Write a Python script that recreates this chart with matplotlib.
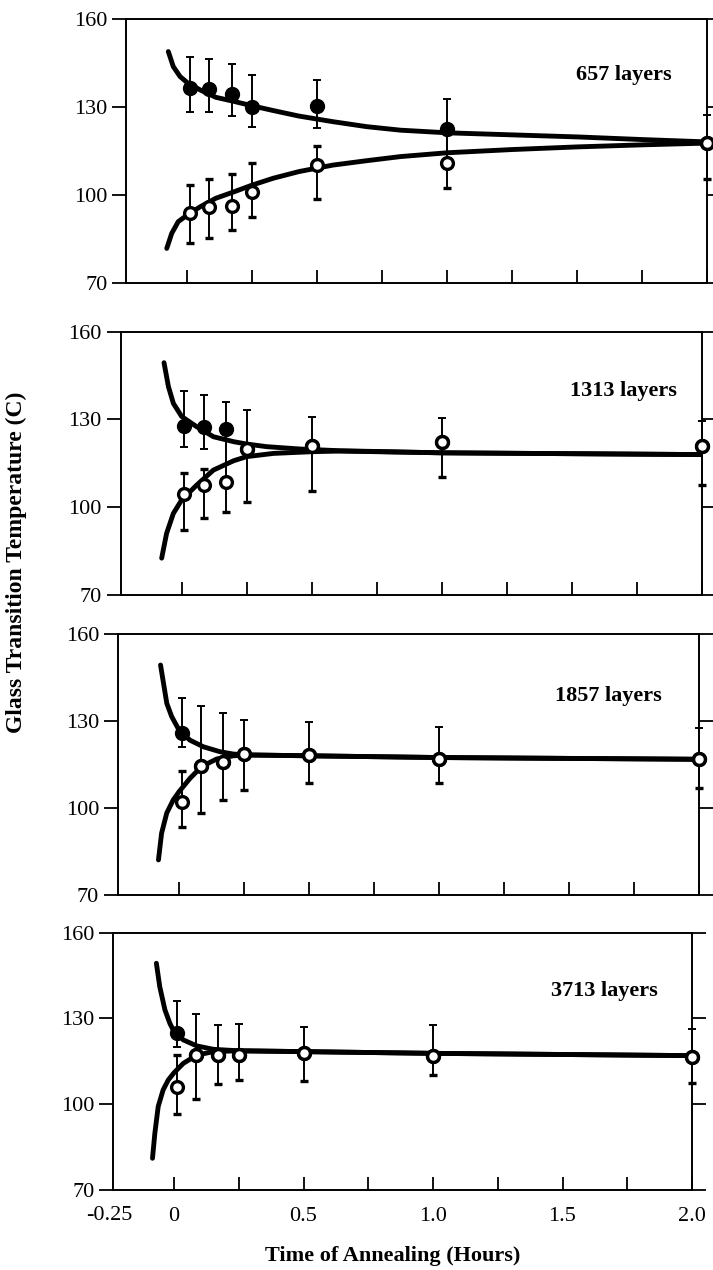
import matplotlib
matplotlib.use("Agg")
import matplotlib.pyplot as plt
from matplotlib.transforms import blended_transform_factory

plt.rcParams['font.family'] = ['Liberation Serif', 'DejaVu Serif']

# annealing times (hours) at which Tg was measured
times = [0.01, 0.085, 0.17, 0.25, 0.5, 1.0, 2.0]

panel_names = ['657 layers', '1313 layers', '1857 layers', '3713 layers']

# filled circles (upper branch): value, lower cap, upper cap
filled_y = [
    [136.5, 136.1, 134.5, 130.0, 130.5, 122.5, 117.9],
    [127.8, 127.3, 126.6, 119.9, 120.9, 122.4, 120.8],
    [125.7, 114.6, 116.0, 118.6, 118.3, 116.8, 116.8],
    [124.8, 117.2, 117.2, 117.2, 117.8, 117.0, 116.5],
]
filled_lo = [
    [128.5, 128.5, 127.0, 123.2, 122.8, 112.0, 117.9],
    [120.7, 119.9, 110.5, 119.9, 120.9, 122.4, 120.8],
    [121.1, 114.6, 116.0, 118.6, 118.3, 116.8, 116.8],
    [120.1, 117.2, 117.2, 117.2, 117.8, 117.0, 116.5],
]
filled_hi = [
    [147.0, 146.4, 144.8, 141.0, 139.3, 132.7, 127.4],
    [139.8, 138.4, 136.1, 133.2, 131.0, 130.4, 129.4],
    [137.8, 135.2, 132.6, 130.3, 129.5, 127.8, 127.5],
    [136.1, 131.6, 127.8, 128.1, 126.9, 127.8, 126.4],
]

# open circles (lower branch)
open_y = [
    [94.1, 95.9, 96.4, 101.2, 110.3, 110.9, 117.9],
    [104.4, 107.6, 108.7, 119.9, 120.9, 122.4, 120.8],
    [102.2, 114.6, 116.0, 118.6, 118.3, 116.8, 116.8],
    [106.2, 117.2, 117.2, 117.2, 117.8, 117.0, 116.5],
]
open_lo = [
    [83.6, 85.3, 88.0, 92.7, 98.6, 102.6, 105.6],
    [92.2, 96.2, 98.2, 101.7, 105.6, 110.4, 107.7],
    [93.3, 98.4, 102.8, 106.2, 108.5, 108.7, 106.8],
    [96.5, 101.8, 107.1, 108.6, 108.3, 110.3, 107.4],
]
open_hi = [
    [103.5, 105.5, 107.3, 111.1, 116.9, 121.0, 117.9],
    [111.6, 113.0, 108.7, 119.9, 120.9, 122.4, 120.8],
    [112.9, 114.6, 116.0, 118.6, 118.3, 116.8, 116.8],
    [117.3, 117.2, 117.2, 117.2, 117.8, 117.0, 116.5],
]

# fitted curves
fit_hi_t = [
    [-0.073, -0.054, -0.028, 0.0, 0.05, 0.11, 0.18, 0.25, 0.33, 0.43, 0.56, 0.69, 0.82, 1.0, 1.25, 1.5, 1.75, 2.0],
    [-0.068, -0.051, -0.032, 0.0, 0.058, 0.122, 0.2, 0.25, 0.327, 0.455, 0.61, 1.0, 1.5, 2.0],
    [-0.071, -0.047, -0.028, 0.0, 0.042, 0.094, 0.158, 0.209, 0.26, 0.5, 1.0, 1.5, 2.0],
    [-0.068, -0.055, -0.035, -0.016, 0.0, 0.036, 0.088, 0.153, 0.247, 0.5, 1.0, 1.5, 2.0],
]
fit_hi_T = [
    [149.0, 143.9, 140.5, 138.4, 135.9, 133.4, 132.0, 130.5, 128.9, 127.0, 125.1, 123.4, 122.2, 121.3, 120.6, 119.9, 119.0, 118.2],
    [149.4, 141.2, 135.5, 131.0, 127.5, 124.1, 122.4, 121.6, 120.7, 119.9, 119.3, 118.6, 118.3, 118.0],
    [149.3, 136.1, 131.5, 126.9, 123.4, 121.1, 119.4, 118.6, 118.3, 118.0, 117.4, 117.1, 116.8],
    [149.3, 141.1, 133.0, 128.3, 125.4, 122.5, 120.4, 119.2, 118.7, 118.4, 117.8, 117.4, 117.0],
]
fit_lo_t = [
    [-0.079, -0.06, -0.035, 0.0, 0.05, 0.11, 0.18, 0.25, 0.33, 0.43, 0.56, 0.69, 0.82, 1.0, 1.25, 1.5, 1.75, 2.0],
    [-0.077, -0.058, -0.032, 0.0, 0.058, 0.122, 0.2, 0.25, 0.353, 0.506, 0.61, 1.0, 1.5, 2.0],
    [-0.079, -0.067, -0.047, -0.022, 0.0, 0.042, 0.087, 0.145, 0.209, 0.26, 0.5, 1.0, 1.5, 2.0],
    [-0.083, -0.074, -0.061, -0.042, -0.022, 0.0, 0.036, 0.088, 0.153, 0.247, 0.5, 1.0, 1.5, 2.0],
]
fit_lo_T = [
    [81.9, 87.0, 91.0, 93.3, 96.1, 99.0, 101.2, 103.5, 105.8, 108.1, 110.3, 111.8, 113.2, 114.5, 115.6, 116.5, 117.2, 117.8],
    [82.6, 91.1, 97.9, 102.5, 107.6, 112.7, 115.9, 117.3, 118.4, 119.0, 119.2, 118.6, 118.3, 118.0],
    [82.1, 91.3, 98.3, 102.8, 105.6, 110.2, 114.3, 116.9, 118.0, 118.3, 118.0, 117.4, 117.1, 116.8],
    [81.1, 89.8, 99.2, 105.0, 108.5, 111.0, 114.3, 117.2, 118.4, 118.7, 118.4, 117.8, 117.4, 117.0],
]

y_ticks = [70, 100, 130, 160]
x_ticks = [0, 0.25, 0.5, 0.75, 1.0, 1.25, 1.5, 1.75, 2.0]
x_labels = ['0', '', '0.5', '', '1.0', '', '1.5', '', '2.0']

# layout: panel placement in pixels (x of t=0, px per hour, top, bottom);
# the scan is slightly skewed so each panel sits a little further left
W, H = 713, 1270
XMIN, XMAX = -0.235, 2.0
panels_px = [(187.3, 260, 19.3, 283.3),
             (181.7, 260, 331.7, 595.0),
             (179.0, 260, 634.0, 895.0),
             (174.0, 259, 932.7, 1190.0)]
name_pos = [(1.68, 141.0), (1.70, 139.7), (1.65, 138.5), (1.66, 139.5)]

TICK_FS = 16

fig = plt.figure(figsize=(W / 100, H / 100), dpi=100)

for i, (x0, sc, top, bot) in enumerate(panels_px):
    left = x0 + XMIN * sc
    right = x0 + XMAX * sc
    ax = fig.add_axes([left / W, 1 - bot / H, (right - left) / W, (bot - top) / H])
    ax.set_xlim(XMIN, XMAX)
    ax.set_ylim(70, 160)

    ax.plot(fit_hi_t[i], fit_hi_T[i], color='black', lw=3.5,
            solid_capstyle='round', solid_joinstyle='round', zorder=2)
    ax.plot(fit_lo_t[i], fit_lo_T[i], color='black', lw=3.5,
            solid_capstyle='round', solid_joinstyle='round', zorder=2)

    f_err = [[y - lo for y, lo in zip(filled_y[i], filled_lo[i])],
             [hi - y for y, hi in zip(filled_y[i], filled_hi[i])]]
    ax.errorbar(times, filled_y[i], yerr=f_err, fmt='o', color='black',
                ms=10, elinewidth=1.4, capsize=2.8, capthick=1.4,
                zorder=3, clip_on=False)
    o_err = [[y - lo for y, lo in zip(open_y[i], open_lo[i])],
             [hi - y for y, hi in zip(open_y[i], open_hi[i])]]
    ax.errorbar(times, open_y[i], yerr=o_err, fmt='o', color='black',
                mfc='white', mec='black', mew=2.4, ms=8.5,
                elinewidth=1.4, capsize=2.8, capthick=1.4,
                zorder=4, clip_on=False)

    nx, ny = name_pos[i]
    ax.text(nx, ny, panel_names[i], ha='center', va='center',
            fontsize=16, fontweight='bold')

    for s in ax.spines.values():
        s.set_linewidth(1.4)
    ax.set_yticks(y_ticks)
    ax.tick_params(axis='y', direction='out', length=10, width=1.3,
                   left=True, right=True, labelsize=TICK_FS, pad=3.5)
    ax.set_xticks(x_ticks)
    ax.tick_params(axis='x', direction='in', length=9.5, width=1.3,
                   bottom=True, top=False, labelsize=TICK_FS, pad=12)
    if i == 3:
        ax.set_xticklabels(x_labels)
        # -0.25 sits just outside the left spine
        tr = blended_transform_factory(ax.transData, ax.transAxes)
        ax.text(-0.25, -16.5 / (bot - top), '-0.25', transform=tr,
                ha='center', va='top', fontsize=TICK_FS, clip_on=False)
    else:
        ax.set_xticklabels([])

fig.text(16 / W, 1 - 562 / H, 'Glass Transition Temperature (C)', rotation=90,
         ha='center', va='center', fontsize=17, fontweight='bold')
fig.text(393 / W, 1 - 1256 / H, 'Time of Annealing (Hours)',
         ha='center', va='center', fontsize=16, fontweight='bold')

fig.savefig('out.png', dpi=100)
